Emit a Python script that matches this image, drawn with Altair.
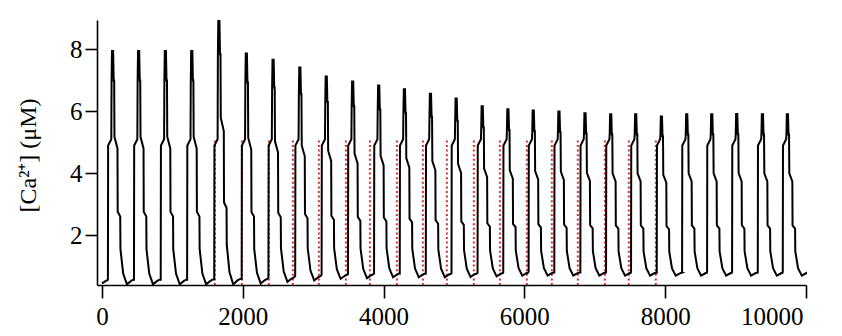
import altair as alt
import pandas as pd

# Rise times of each Ca2+ spike (ms)
RISE_T = [85, 455, 835, 1210, 1595, 1985, 2365, 2745, 3120, 3495, 3865, 4230, 4600,
          4965, 5335, 5700, 6060, 6425, 6795, 7160, 7515, 7880, 8240, 8595, 8950,
          9315, 9670]
# Peak heights (uM)
PEAKS = [7.98, 7.98, 7.98, 7.98, 8.95, 7.9, 7.7, 7.45, 7.16, 7.0, 6.87, 6.75, 6.6,
         6.45, 6.2, 6.1, 6.06, 6.03, 5.97, 5.94, 5.94, 5.87, 5.94, 5.94, 5.95, 5.94,
         5.94]
# Trough (baseline) levels (uM)
BASES = [0.42, 0.42, 0.42, 0.42, 0.42, 0.45, 0.5, 0.55, 0.6, 0.62, 0.65, 0.65, 0.65,
         0.66, 0.68, 0.7, 0.7, 0.7, 0.7, 0.7, 0.7, 0.7, 0.7, 0.7, 0.7, 0.7, 0.7]
# Step shape of one spike: time after rise and level
# ('r'/'r2' = rise shoulder, number = fraction between trough and peak)
SHAPE_DT = [0, 3, 48, 52, 58, 66, 74, 82, 89, 93, 136, 139, 175, 178, 217, 270,
            330, 362]
SHAPE_LVL = [0.02, 'r', 'r2', 0.87, 1.0, 0.9, 1.0, 0.87, 0.87, 0.63, 0.58, 0.31,
             0.29, 0.15, 0.046, 0.0, 0.015, 0.02]
RISE_LEVEL = 4.9
RISE_LEVEL2 = 5.1
START = (0, 0.45)
END = (10000, 0.75)

# Red dotted markers (stimulus times) and their height
RED_T = [1605, 1988, 2371, 2712, 3081, 3465, 3806, 4189, 4558, 4899, 5282, 5652,
         6035, 6390, 6759, 7143, 7483, 7867]
RED_TOP = 5.1

Y_MIN, Y_MAX = 0.4, 8.95
X_MIN, X_MAX = -70, 10000

rows = [{"t": START[0], "ca": START[1]}]
for t0, p, b in zip(RISE_T, PEAKS, BASES):
    for dt, lvl in zip(SHAPE_DT, SHAPE_LVL):
        if lvl == 'r':
            v = RISE_LEVEL
        elif lvl == 'r2':
            v = RISE_LEVEL2
        else:
            v = b + lvl * (p - b)
        t = t0 + dt
        if t <= END[0]:
            rows.append({"t": t, "ca": v})
rows.append({"t": END[0], "ca": END[1]})
df = pd.DataFrame(rows)
df["i"] = range(len(df))

red = pd.DataFrame({"t": RED_T, "y0": [Y_MIN] * len(RED_T), "y1": [RED_TOP] * len(RED_T)})

xscale = alt.Scale(domain=[X_MIN, X_MAX], nice=False, zero=False)
yscale = alt.Scale(domain=[Y_MIN, Y_MAX], nice=False, zero=False)

xaxis = alt.Axis(values=[0, 2000, 4000, 6000, 8000, 10000], format="d", grid=False,
                 tickSize=13, labelPadding=6, title=None,
                 labelOffset={"condition": {"test": "datum.value == 10000", "value": -3},
                              "value": 0})
yaxis = alt.Axis(values=[2, 4, 6, 8], grid=False, tickSize=12, labelPadding=3,
                 title="[Ca²⁺] (μM)", titleX=-57, titleY=135, titleAngle=-90,
                 titleAlign="center", titleBaseline="bottom")

redrules = alt.Chart(red).mark_rule(color="#d03030", strokeWidth=2,
                                    strokeDash=[2, 2.6]).encode(
    x=alt.X("t:Q", scale=xscale, axis=xaxis),
    y=alt.Y("y0:Q", scale=yscale, axis=yaxis),
    y2="y1:Q",
)

line = alt.Chart(df).mark_line(color="black", strokeWidth=2, interpolate="linear").encode(
    x=alt.X("t:Q", scale=xscale, axis=xaxis),
    y=alt.Y("ca:Q", scale=yscale, axis=yaxis),
    order="i:Q",
)

chart = alt.layer(redrules, line).properties(
    width=709, height=265,
    autosize=alt.AutoSizeParams(type="none"),
    padding={"left": 89, "top": 12, "right": 28, "bottom": 43},
    background="white",
).configure_view(stroke=None).configure_axis(
    domainColor="black", domainWidth=1.6, tickColor="black", tickWidth=1.6,
    labelFont="Liberation Serif", labelFontSize=25, labelColor="black",
    titleFont="Liberation Serif", titleFontSize=24, titleFontWeight="normal",
    titleColor="black",
)

chart.save("out.html", embed_options={"renderer": "svg", "actions": False})
